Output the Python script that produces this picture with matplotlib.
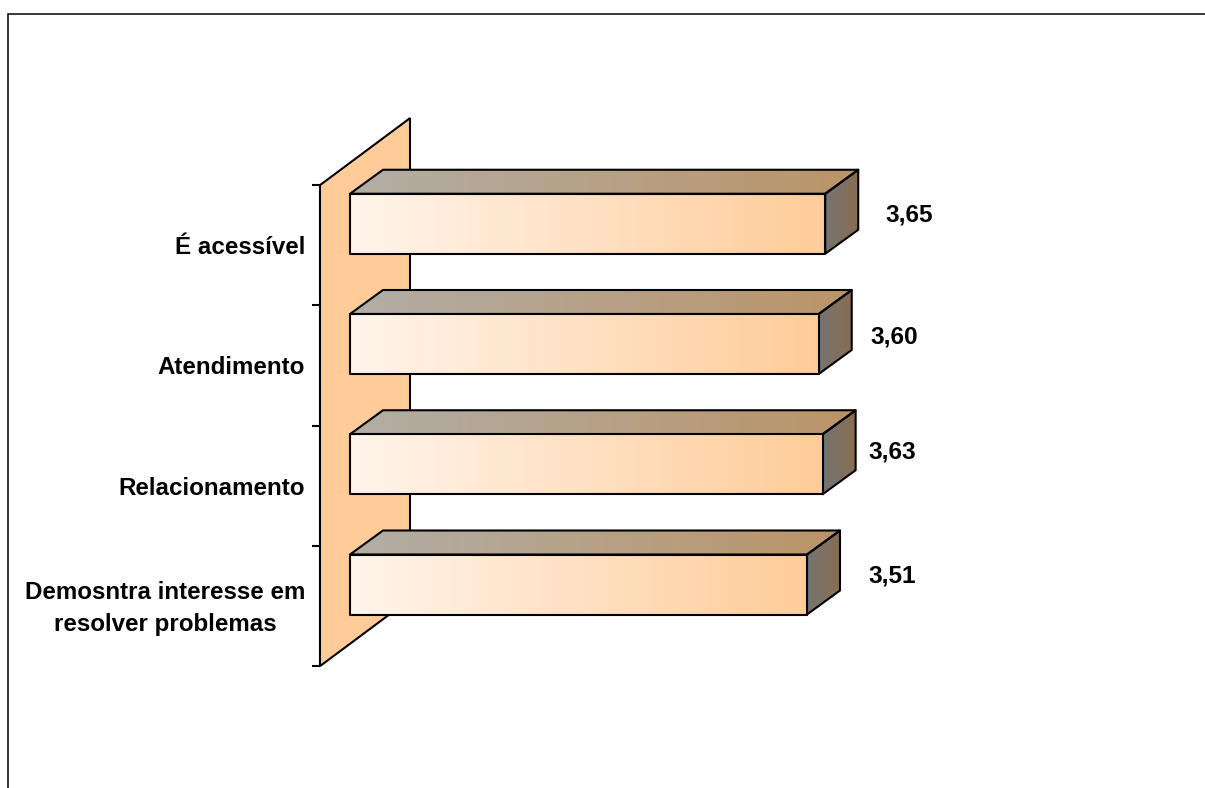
import numpy as np
import matplotlib
matplotlib.use("Agg")
import matplotlib.pyplot as plt
from matplotlib.colors import LinearSegmentedColormap
from matplotlib.patches import Polygon

categories = ["É acessível", "Atendimento", "Relacionamento",
              "Demosntra interesse em\nresolver problemas"]
values = [3.65, 3.60, 3.63, 3.51]
value_labels = ["3,65", "3,60", "3,63", "3,51"]

W, H = 1205, 788
X0, Y0 = 350, 584.5          # pixel of value 0 / of the lowest bar centre
PX_X, PX_Y = 130.2, 120.25  # pixels per value unit / per category
BAR_H = 60 / PX_Y
DX, DY = 33 / PX_X, 24 / PX_Y  # bar depth
WALL_X, WALL_Y = 90 / PX_X, 67 / PX_Y

plt.rcParams['font.family'] = ['Liberation Sans', 'DejaVu Sans']
fig = plt.figure(figsize=(W / 100, H / 100), dpi=100)
ax = fig.add_axes([0, 0, 1, 1])
ax.set_xlim(-X0 / PX_X, (W - X0) / PX_X)
ax.set_ylim(-(H - Y0) / PX_Y, Y0 / PX_Y)
ax.axis('off')

LW = 1.5


def grad_face(points, c1, c2, z):
    poly = Polygon(points, closed=True, fc='none', ec='black', lw=LW, zorder=z + 0.5,
                   joinstyle='round')
    ax.add_patch(poly)
    xs, ys = zip(*points)
    cmap = LinearSegmentedColormap.from_list('g', [c1, c2])
    im = ax.imshow(np.linspace(0, 1, 256)[None, :], cmap=cmap, aspect='auto',
                   extent=(min(xs), max(xs), min(ys), max(ys)), zorder=z,
                   interpolation='bilinear')
    clip = Polygon(points, closed=True, transform=ax.transData)
    im.set_clip_path(clip)


# category positions, lowest bar at 0
ypos = np.arange(len(values))[::-1]
band_low = ypos.min() - 0.5 - 21.5 / PX_Y
band_high = ypos.max() + 0.5 - 21.5 / PX_Y
wall_x = -30 / PX_X

# back wall
ax.add_patch(Polygon([(wall_x, band_low), (wall_x, band_high),
                      (wall_x + WALL_X, band_high + WALL_Y),
                      (wall_x + WALL_X, band_low + WALL_Y)],
                     closed=True, fc='#FFCC99', ec='black', lw=LW, zorder=1))

# ticks on the wall's front edge
for t in np.arange(len(values) + 1):
    ax.plot([wall_x - 8 / PX_X, wall_x], [band_low + t, band_low + t],
            color='black', lw=LW, zorder=1, solid_capstyle='butt')

label_dx = [84, 76, 70, 85]
label_dy = [9, 7, 12, 8]

for i, (y, v, cat, lab) in enumerate(zip(ypos, values, categories, value_labels)):
    lo, hi = y - BAR_H / 2, y + BAR_H / 2
    grad_face([(0, hi), (DX, hi + DY), (v + DX, hi + DY), (v, hi)],
              '#B2AEA6', '#BB9468', 3 + i)
    grad_face([(v, lo), (v + DX, lo + DY), (v + DX, hi + DY), (v, hi)],
              '#747474', '#8A6D50', 3 + i)
    grad_face([(0, lo), (v, lo), (v, hi), (0, hi)],
              '#FFF5EC', '#FFCC99', 3.6 + i)
    ax.text(v + label_dx[i] / PX_X, y + label_dy[i] / PX_Y, lab, ha='center', va='center',
            fontsize=17.6, fontweight='bold', color='black', zorder=10)
    ax.text(-45 / PX_X, y - 24 / PX_Y, cat, ha='right', va='center', multialignment='center',
            fontsize=17.4, fontweight='bold', color='black', linespacing=1.45, zorder=10)

ax.set_xlim(-X0 / PX_X, (W - X0) / PX_X)
ax.set_ylim(-(H - Y0) / PX_Y, Y0 / PX_Y)

# outer chart frame
frame_x = (np.array([8, 8, W]) - X0) / PX_X
frame_y = (Y0 - np.array([H, 13.5, 13.5])) / PX_Y
ax.plot(frame_x, frame_y, color='black', lw=1.1, zorder=11, solid_joinstyle='miter')

fig.savefig('out.png', dpi=100, facecolor='white')
